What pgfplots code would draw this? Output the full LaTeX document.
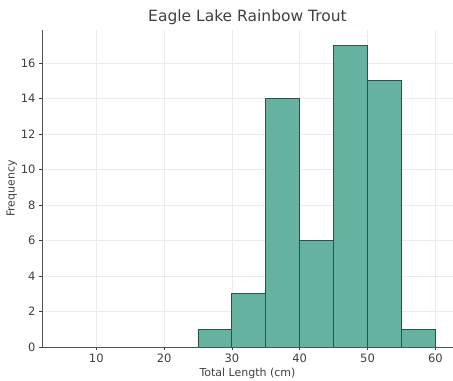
\documentclass[border=0pt]{standalone}
\usepackage{pgfplots}
\pgfplotsset{compat=1.18}
\usepackage{fontspec}
\setmainfont{DejaVu Sans}
\definecolor{barfill}{HTML}{66B2A0}
\definecolor{baredge}{HTML}{2A5249}
\definecolor{txt}{HTML}{404040}
\begin{document}
\begin{tikzpicture}
\begin{axis}[
  scale only axis,
  width=411pt, height=317pt,
  xmin=2, xmax=62.6, ymin=0, ymax=17.85,
  xtick={10,20,...,60}, ytick={0,2,...,16},
  axis x line*=bottom, axis y line*=left,
  axis line style={color=txt!90, line width=0.9pt},
  grid=major, major grid style={color=black!8, line width=0.6pt},
  tick style={color=txt, line width=0.6pt},
  tick align=outside, major tick length=3pt,
  ticklabel style={font=\fontsize{11.5}{13}\selectfont, text=txt},
  /pgf/number format/assume math mode=true,
  xlabel={Total Length (cm)}, ylabel={Frequency},
  label style={font=\fontsize{11}{12}\selectfont, text=txt},
  xlabel style={yshift=1pt},
  ylabel style={yshift=-3pt},
  title={Eagle Lake Rainbow Trout},
  title style={font=\fontsize{15.5}{17}\selectfont, text=txt, yshift=-4pt},
]
\addplot[ybar interval, fill=barfill, draw=baredge, line width=0.9pt] coordinates {
(25,1) (30,3) (35,14) (40,6) (45,17) (50,15) (55,1) (60,1)
};
\end{axis}
\pgfresetboundingbox
\path (current axis.south west) ++(-42pt,-34pt) rectangle ([yshift=30pt]current axis.north east);
\end{tikzpicture}
\end{document}
